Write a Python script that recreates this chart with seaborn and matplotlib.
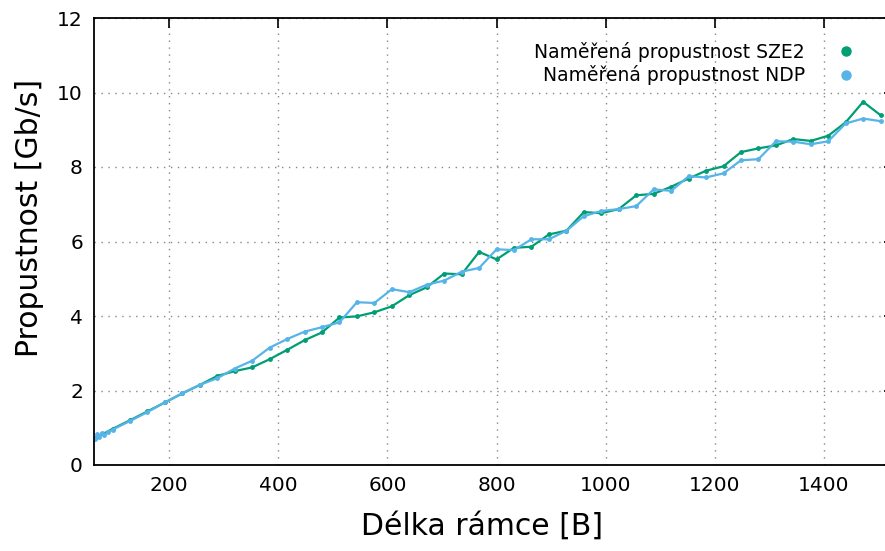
import pandas
import numpy
import seaborn as sns
import matplotlib.pyplot as plt
from matplotlib.lines import Line2D
#------------------------------

#data SZE2
sze2_len = [64, 96, 128, 160, 192, 224, 256, 288, 320, 352, 384, 416, 448, 480,
            512, 544, 576, 608, 640, 672, 704, 736, 768, 800, 832, 864, 896, 928,
            960, 992, 1024, 1056, 1088, 1120, 1152, 1184, 1216, 1248, 1280, 1312,
            1344, 1376, 1408, 1440, 1472, 1504]
sze2_rate = [0.72, 0.97, 1.20, 1.44, 1.68, 1.92, 2.15, 2.39, 2.52, 2.62, 2.84, 3.09,
             3.35, 3.56, 3.96, 3.99, 4.10, 4.26, 4.56, 4.77, 5.14, 5.12, 5.72, 5.52,
             5.83, 5.86, 6.19, 6.29, 6.79, 6.76, 6.87, 7.24, 7.28, 7.47, 7.69, 7.90,
             8.02, 8.40, 8.50, 8.58, 8.75, 8.70, 8.84, 9.20, 9.75, 9.39]

#data NDP
ndp_len = [64, 68, 72, 76, 80, 88, 96, 128, 160, 192, 224, 256, 288, 320, 352, 384,
           416, 448, 480, 512, 544, 576, 608, 640, 672, 704, 736, 768, 800, 832,
           864, 896, 928, 960, 992, 1024, 1056, 1088, 1120, 1152, 1184, 1216, 1248,
           1280, 1312, 1344, 1376, 1408, 1440, 1472, 1504]
ndp_rate = [0.70, 0.82, 0.76, 0.86, 0.80, 0.88, 0.95, 1.18, 1.42, 1.68, 1.93, 2.15,
            2.33, 2.59, 2.80, 3.15, 3.38, 3.58, 3.70, 3.83, 4.37, 4.35, 4.72, 4.64,
            4.84, 4.95, 5.19, 5.29, 5.79, 5.77, 6.06, 6.06, 6.29, 6.68, 6.82, 6.87,
            6.95, 7.40, 7.36, 7.75, 7.72, 7.83, 8.18, 8.21, 8.69, 8.68, 8.61, 8.69,
            9.17, 9.30, 9.23]

label_sze2 = "Naměřená propustnost SZE2"
label_ndp = "Naměřená propustnost NDP"
green = "#009e73"
blue = "#56b4e9"

#data frame
df_sze2 = pandas.DataFrame({"len": sze2_len, "rate": sze2_rate, "src": label_sze2})
df_ndp = pandas.DataFrame({"len": ndp_len, "rate": ndp_rate, "src": label_ndp})
df = pandas.concat([df_sze2, df_ndp], ignore_index=True)

#style
sns.set_style("white")
plt.rcParams["font.family"] = ["DejaVu Sans"]
plt.rcParams["text.color"] = "black"
plt.rcParams["axes.labelcolor"] = "black"

fig = plt.figure(figsize=(8.85, 5.51), dpi=100)
ax = fig.add_axes([94 / 885, 1 - 465 / 551, 800 / 885, 447 / 551])

sns.lineplot(data=df, x="len", y="rate", hue="src",
             palette={label_sze2: green, label_ndp: blue},
             hue_order=[label_sze2, label_ndp],
             marker="o", markersize=3.5, markeredgewidth=0,
             linewidth=1.6, legend=False, ax=ax, sort=False)

ax.set_xlim(62, 62 + 800 / 0.5455)
ax.set_ylim(0, 12)
ax.set_xticks([200, 400, 600, 800, 1000, 1200, 1400])
ax.set_yticks([0, 2, 4, 6, 8, 10, 12])
ax.grid(True, linestyle=(0, (1, 4)), color="#888888", linewidth=1.0)
ax.tick_params(direction="in", length=7, width=1.2, labelsize=14.5, colors="black",
               top=True, right=True, pad=8)
for side in ["left", "bottom", "top", "right"]:
    ax.spines[side].set_color("black")
    ax.spines[side].set_linewidth(1.3)

ax.set_xlabel("Délka rámce [B]", fontsize=21.5, color="black")
ax.set_ylabel("Propustnost [Gb/s]", fontsize=21.5, color="black")
ax.xaxis.set_label_coords(0.485, -0.105)
ax.yaxis.set_label_coords(-0.063, 0.553)

#legend
handles = [Line2D([], [], linestyle="none", marker="o", markersize=6.5, color=green),
           Line2D([], [], linestyle="none", marker="o", markersize=6.5, color=blue)]
leg = ax.legend(handles, [label_sze2, label_ndp], loc="upper right",
                bbox_to_anchor=(0.985, 0.985), frameon=False, markerfirst=False,
                fontsize=13.5, handletextpad=1.2, labelspacing=0.2)
for t in leg.get_texts():
    t.set_ha("right")
    t.set_color("black")

fig.savefig("out.png", dpi=100)
